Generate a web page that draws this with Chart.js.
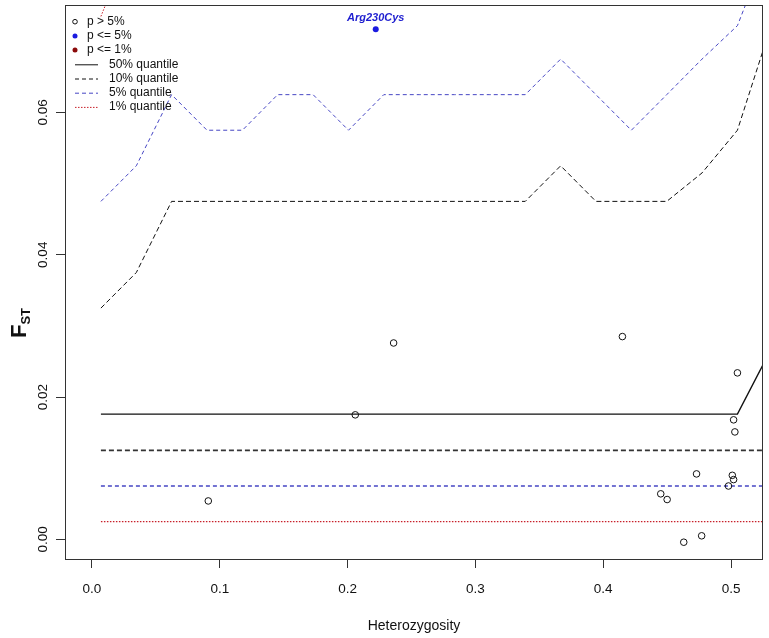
<!DOCTYPE html>
<html>
<head>
<meta charset="utf-8">
<script src="https://cdn.jsdelivr.net/npm/chart.js@4.4.1/dist/chart.umd.min.js"></script>
<style>
  body { margin: 0; background: #fff; }
  canvas { display: block; }
</style>
</head>
<body>
<canvas id="fstChart" width="769" height="638"></canvas>
<script>
// heterozygosity grid used by the simulated quantile lines
const HET = [0.007, 0.0347, 0.0623, 0.09, 0.1177, 0.1453, 0.173, 0.2007, 0.2283, 0.256,
             0.2837, 0.3113, 0.339, 0.3667, 0.3943, 0.422, 0.4497, 0.4773, 0.505, 0.5327];

const Q50    = [0.0176, 0.0176, 0.0176, 0.0176, 0.0176, 0.0176, 0.0176, 0.0176, 0.0176, 0.0176,
                0.0176, 0.0176, 0.0176, 0.0176, 0.0176, 0.0176, 0.0176, 0.0176, 0.0176, 0.0272];
const Q10_UP = [0.0325, 0.0375, 0.0475, 0.0475, 0.0475, 0.0475, 0.0475, 0.0475, 0.0475, 0.0475,
                0.0475, 0.0475, 0.0475, 0.0525, 0.0475, 0.0475, 0.0475, 0.0515, 0.0575, 0.073];
const Q10_LO = [0.0125, 0.0125, 0.0125, 0.0125, 0.0125, 0.0125, 0.0125, 0.0125, 0.0125, 0.0125,
                0.0125, 0.0125, 0.0125, 0.0125, 0.0125, 0.0125, 0.0125, 0.0125, 0.0125, 0.0125];
const Q5_UP  = [0.0475, 0.0525, 0.0625, 0.0575, 0.0575, 0.0625, 0.0625, 0.0575, 0.0625, 0.0625,
                0.0625, 0.0625, 0.0625, 0.0675, 0.0625, 0.0575, 0.0625, 0.0675, 0.0722, 0.085];
const Q5_LO  = [0.0075, 0.0075, 0.0075, 0.0075, 0.0075, 0.0075, 0.0075, 0.0075, 0.0075, 0.0075,
                0.0075, 0.0075, 0.0075, 0.0075, 0.0075, 0.0075, 0.0075, 0.0075, 0.0075, 0.0075];
const Q1_UP  = [0.0735, 0.086, 0.09];
const Q1_LO  = [0.0025, 0.0025, 0.0025, 0.0025, 0.0025, 0.0025, 0.0025, 0.0025, 0.0025, 0.0025,
                0.0025, 0.0025, 0.0025, 0.0025, 0.0025, 0.0025, 0.0025, 0.0025, 0.0025, 0.0025];

// loci, p > 5%
const SNP_HET = [0.091, 0.206, 0.236, 0.415, 0.445, 0.450, 0.463, 0.473, 0.477, 0.498, 0.501, 0.502, 0.502, 0.503, 0.505];
const SNP_FST = [0.0054, 0.0175, 0.0276, 0.0285, 0.0064, 0.0056, -0.0004, 0.0092, 0.0005, 0.0075, 0.0090, 0.0084, 0.0168, 0.0151, 0.0234];

// loci, p <= 5%
const SIG_HET = [0.222];
const SIG_FST = [0.0717];
const SIG_LABEL = ['Arg230Cys'];

const X_TICKS = [0.0, 0.1, 0.2, 0.3, 0.4, 0.5];
const Y_TICKS = [0.00, 0.02, 0.04, 0.06];

const FONT = "'Liberation Sans', Arial, sans-serif";
const BLUE_LINE = '#4646c4';
const RED_LINE = '#c8202a';

function pts(xs, ys) {
    return ys.map((y, i) => ({x: xs[i], y: y}));
}

function lineSet(label, ys, color, dash, width) {
    return {
        label: label,
        data: pts(HET, ys),
        showLine: true,
        borderColor: color,
        borderWidth: width,
        borderDash: dash,
        pointRadius: 0,
        pointHoverRadius: 0,
        fill: false,
        tension: 0
    };
}

// box, F_ST title, point label and legend
const extras = {
    id: 'extras',
    afterDraw(chart) {
        const ctx = chart.ctx;
        const a = chart.chartArea;
        const xs = chart.scales.x, ys = chart.scales.y;
        ctx.save();

        ctx.strokeStyle = '#333';
        ctx.lineWidth = 1;
        ctx.strokeRect(a.left + 0.5, a.top + 0.5, a.right - a.left - 1, a.bottom - a.top - 1);

        // y title: F with subscript ST
        ctx.fillStyle = '#111';
        ctx.translate(26, 323);
        ctx.rotate(-Math.PI / 2);
        ctx.textBaseline = 'alphabetic';
        ctx.textAlign = 'left';
        ctx.font = 'bold 22px ' + FONT;
        const fw = ctx.measureText('F').width;
        ctx.font = 'bold 13px ' + FONT;
        const sw = ctx.measureText('ST').width;
        const start = -(fw + sw) / 2;
        ctx.font = 'bold 22px ' + FONT;
        ctx.fillText('F', start, 0);
        ctx.font = 'bold 13px ' + FONT;
        ctx.fillText('ST', start + fw, 4);
        ctx.setTransform(1, 0, 0, 1, 0, 0);

        // label over the significant locus
        ctx.font = 'bold italic 11px ' + FONT;
        ctx.fillStyle = '#2020d0';
        ctx.textAlign = 'center';
        ctx.textBaseline = 'middle';
        SIG_HET.forEach((h, i) => {
            ctx.fillText(SIG_LABEL[i], xs.getPixelForValue(h), ys.getPixelForValue(SIG_FST[i]) - 11.5);
        });

        // legend
        const lx = a.left;
        const row = i => a.top + 16.7 + i * 14.2;
        ctx.font = '12px ' + FONT;
        ctx.textAlign = 'left';
        ctx.textBaseline = 'middle';

        ctx.lineWidth = 1;
        ctx.strokeStyle = '#111';
        ctx.beginPath(); ctx.arc(lx + 10, row(0), 2.3, 0, Math.PI * 2); ctx.stroke();
        ctx.fillStyle = '#1a1ae0';
        ctx.beginPath(); ctx.arc(lx + 10, row(1), 2.5, 0, Math.PI * 2); ctx.fill();
        ctx.fillStyle = '#8b0a0a';
        ctx.beginPath(); ctx.arc(lx + 10, row(2), 2.5, 0, Math.PI * 2); ctx.fill();

        ctx.fillStyle = '#111';
        ctx.fillText('p > 5%', lx + 22, row(0));
        ctx.fillText('p <= 5%', lx + 22, row(1));
        ctx.fillText('p <= 1%', lx + 22, row(2));

        const legLines = [
            ['50% quantile', '#111', []],
            ['10% quantile', '#111', [4, 3]],
            ['5% quantile', BLUE_LINE, [4, 3]],
            ['1% quantile', RED_LINE, [1.5, 1.5]]
        ];
        legLines.forEach((l, i) => {
            const y = row(3 + i);
            ctx.strokeStyle = l[1];
            ctx.setLineDash(l[2]);
            ctx.beginPath(); ctx.moveTo(lx + 10, y + 0.5); ctx.lineTo(lx + 33, y + 0.5); ctx.stroke();
            ctx.setLineDash([]);
            ctx.fillStyle = '#111';
            ctx.fillText(l[0], lx + 44, y);
        });
        ctx.restore();
    }
};

new Chart(document.getElementById('fstChart'), {
    type: 'scatter',
    data: {
        datasets: [
            {
                label: 'p <= 5%',
                data: pts(SIG_HET, SIG_FST),
                pointRadius: 3,
                pointBackgroundColor: '#1a1ae0',
                pointBorderColor: '#1a1ae0',
                pointBorderWidth: 0
            },
            {
                label: 'p > 5%',
                data: pts(SNP_HET, SNP_FST),
                pointRadius: 3.3,
                pointBackgroundColor: 'rgba(0,0,0,0)',
                pointBorderColor: '#111',
                pointBorderWidth: 1
            },
            lineSet('50% quantile', Q50, '#111', [], 1.4),
            lineSet('10% quantile', Q10_UP, '#111', [5, 3], 1),
            lineSet('10% quantile low', Q10_LO, '#333', [5, 3], 1.6),
            lineSet('5% quantile', Q5_UP, BLUE_LINE, [4, 3], 1),
            lineSet('5% quantile low', Q5_LO, BLUE_LINE, [4, 3], 1.6),
            lineSet('1% quantile', Q1_UP, RED_LINE, [1.5, 1.5], 1),
            lineSet('1% quantile low', Q1_LO, RED_LINE, [1.5, 1.5], 1.4)
        ]
    },
    options: {
        responsive: false,
        animation: false,
        events: [],
        layout: { padding: { top: 5, right: 6, left: 0, bottom: 0 } },
        plugins: {
            legend: { display: false },
            tooltip: { enabled: false }
        },
        scales: {
            x: {
                type: 'linear',
                min: -0.0211,
                max: 0.525,
                afterBuildTicks: s => { s.ticks = X_TICKS.map(v => ({value: v})); },
                afterFit: s => { s.height = 78; s.paddingLeft = 0; s.paddingRight = 0; },
                border: { display: false },
                grid: { display: true, drawOnChartArea: false, drawTicks: true, tickLength: 8, color: '#333' },
                ticks: {
                    padding: 13,
                    color: '#111',
                    font: { family: FONT, size: 13.5 },
                    callback: v => v.toFixed(1)
                },
                title: {
                    display: true,
                    text: 'Heterozygosity',
                    color: '#111',
                    font: { family: FONT, size: 14 },
                    padding: { top: 0, bottom: 3 }
                }
            },
            y: {
                type: 'linear',
                min: -0.0029,
                max: 0.0751,
                afterBuildTicks: s => { s.ticks = Y_TICKS.map(v => ({value: v})); },
                afterFit: s => { s.width = 65; s.paddingTop = 0; s.paddingBottom = 0; },
                border: { display: false },
                grid: { display: true, drawOnChartArea: false, drawTicks: true, tickLength: 9, color: '#333' },
                ticks: {
                    padding: 0,
                    minRotation: 90,
                    maxRotation: 90,
                    crossAlign: 'center',
                    color: '#111',
                    font: { family: FONT, size: 13.5 },
                    callback: v => v.toFixed(2)
                }
            }
        }
    },
    plugins: [extras]
});
</script>
</body>
</html>
